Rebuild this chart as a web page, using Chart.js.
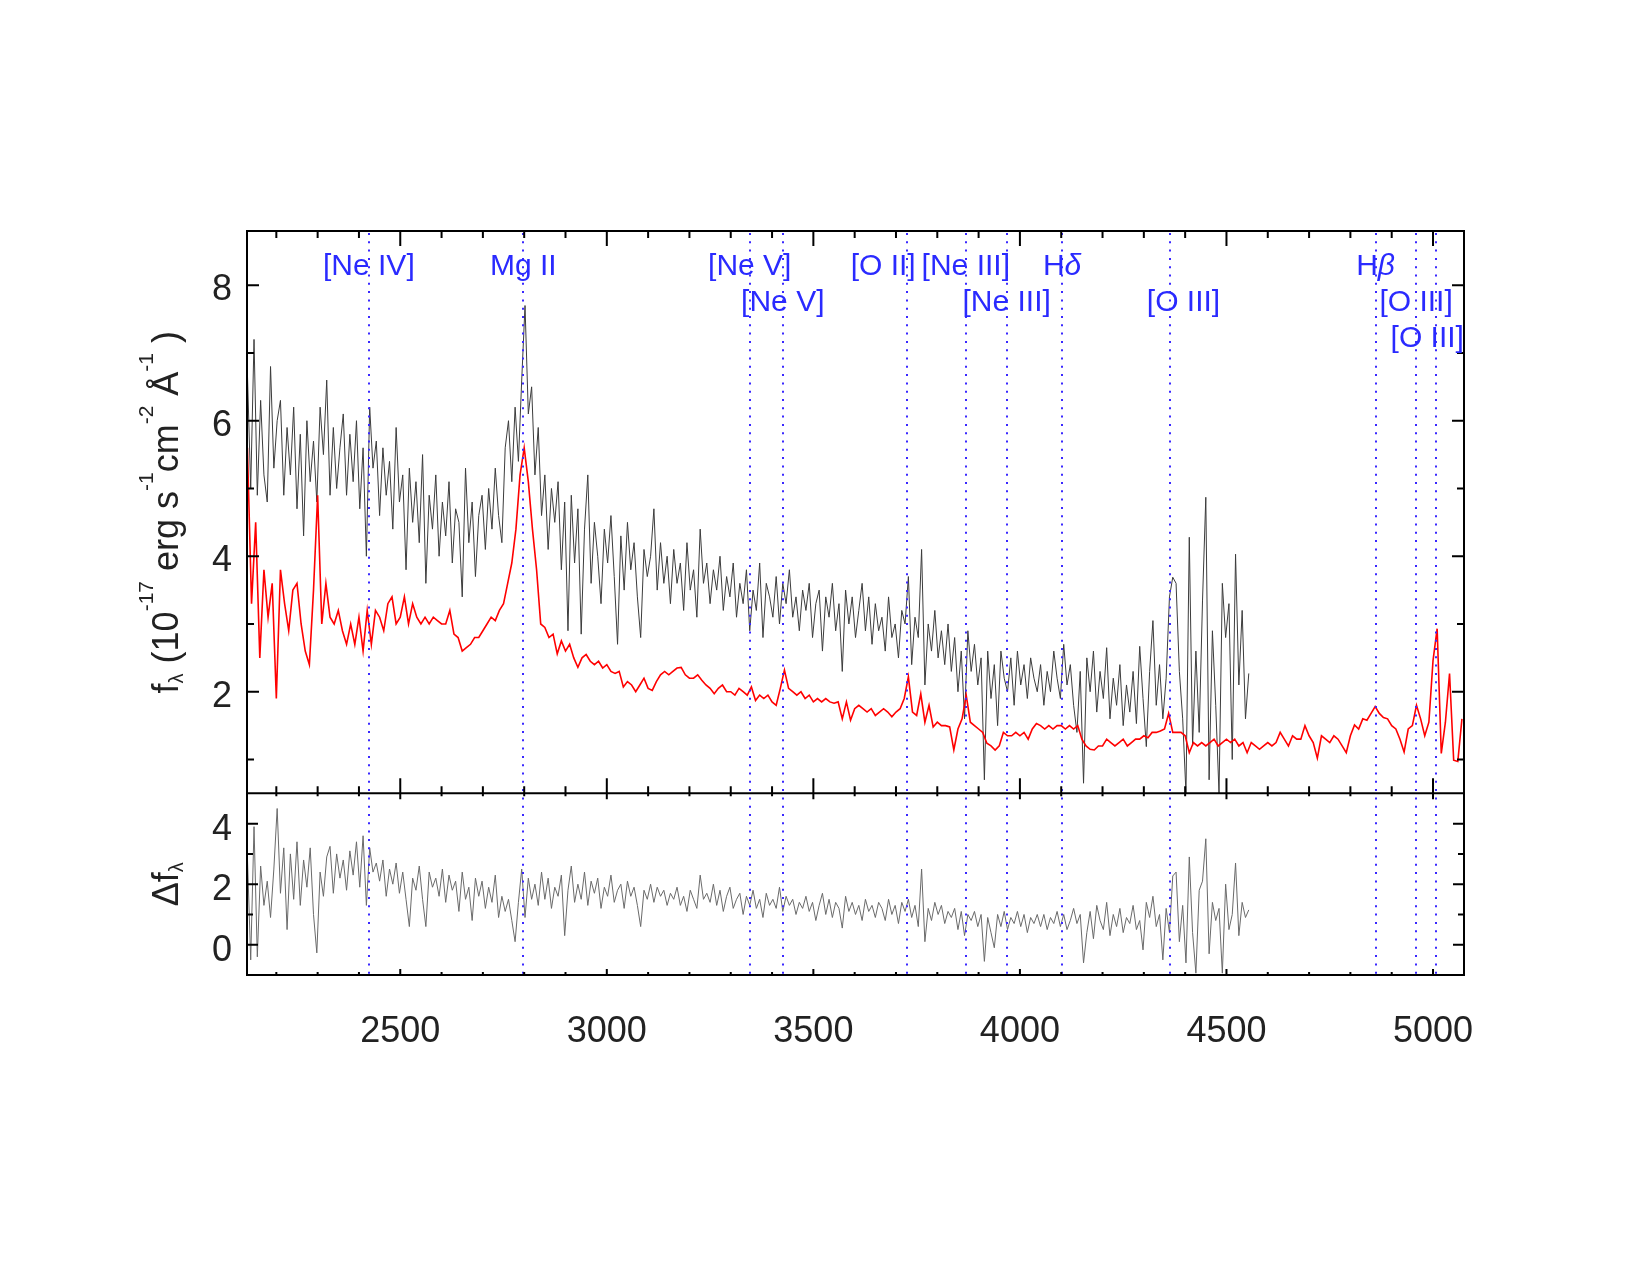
<!DOCTYPE html>
<html>
<head>
<meta charset="utf-8">
<script src="https://cdn.jsdelivr.net/npm/chart.js@4.4.1/dist/chart.umd.min.js"></script>
<style>
  html, body { margin: 0; padding: 0; background: #fff; }
</style>
</head>
<body>
<canvas id="chart" width="1650" height="1275"></canvas>
<script>
// wavelength grids (Angstrom) for the spectra
const redStart = 2130, redStep = 10;
const grayStart = 2130, grayStep = 8;

// model / host-subtracted spectrum (red)
const redFlux = [
  5.6, 3.3, 4.5, 2.5, 3.8, 3.1, 3.6, 1.9, 3.8, 3.3,
  2.9, 3.5, 3.6, 3.0, 2.6, 2.4, 3.5, 4.9, 3.0, 3.6,
  3.1, 3.0, 3.2, 2.9, 2.7, 3.0, 2.7, 3.1, 2.6, 3.2,
  2.7, 3.2, 3.1, 2.9, 3.3, 3.4, 3.0, 3.1, 3.4, 3.0,
  3.3, 3.1, 3.0, 3.1, 3.0, 3.1, 3.05, 3.0, 3.0, 3.2,
  2.85, 2.8, 2.6, 2.65, 2.7, 2.8, 2.8, 2.9, 3.0, 3.1,
  3.05, 3.2, 3.3, 3.6, 3.9, 4.4, 5.2, 5.6, 5.1, 4.4,
  3.8, 3.0, 2.95, 2.8, 2.85, 2.56, 2.75, 2.6, 2.7, 2.5,
  2.36, 2.5, 2.55, 2.45, 2.4, 2.45, 2.35, 2.4, 2.3, 2.27,
  2.3, 2.07, 2.15, 2.1, 2.0, 2.1, 2.2, 2.05, 2.02, 2.15,
  2.25, 2.3, 2.25, 2.3, 2.35, 2.36, 2.25, 2.2, 2.2, 2.25,
  2.17, 2.1, 2.05, 1.97, 2.05, 2.1, 2.0, 2.0, 1.95, 2.05,
  2.0, 1.95, 2.07, 1.87, 1.95, 1.9, 1.95, 1.85, 1.8, 2.05,
  2.32, 2.05, 2.0, 1.95, 2.0, 1.9, 1.95, 1.85, 1.9, 1.85,
  1.9, 1.85, 1.83, 1.85, 1.6, 1.85, 1.58, 1.75, 1.8, 1.75,
  1.7, 1.75, 1.65, 1.7, 1.75, 1.7, 1.63, 1.7, 1.75, 1.9,
  2.22, 1.7, 1.65, 1.97, 1.55, 1.8, 1.48, 1.55, 1.5, 1.5,
  1.48, 1.14, 1.45, 1.6, 1.95, 1.55, 1.5, 1.45, 1.4, 1.24,
  1.2, 1.14, 1.2, 1.4, 1.35, 1.35, 1.4, 1.35, 1.4, 1.3,
  1.45, 1.53, 1.5, 1.45, 1.5, 1.45, 1.5, 1.5, 1.45, 1.5,
  1.45, 1.5, 1.3, 1.2, 1.15, 1.14, 1.2, 1.2, 1.3, 1.25,
  1.2, 1.25, 1.3, 1.2, 1.25, 1.3, 1.3, 1.35, 1.32, 1.4,
  1.4, 1.42, 1.45, 1.68, 1.4, 1.4, 1.4, 1.35, 1.1, 1.25,
  1.2, 1.25, 1.2, 1.25, 1.3, 1.2, 1.25, 1.3, 1.25, 1.3,
  1.2, 1.25, 1.1, 1.25, 1.2, 1.15, 1.2, 1.25, 1.2, 1.25,
  1.4, 1.3, 1.2, 1.35, 1.3, 1.3, 1.5, 1.35, 1.25, 1.02,
  1.35, 1.3, 1.25, 1.35, 1.3, 1.2, 1.1, 1.35, 1.51, 1.45,
  1.6, 1.58, 1.68, 1.78, 1.68, 1.62, 1.6, 1.5, 1.45, 1.3,
  1.11, 1.45, 1.5, 1.8, 1.6, 1.35, 1.55, 2.46, 2.93, 1.09,
  1.55, 2.27, 0.99, 0.97, 1.6
];

// observed spectrum (grey, top panel)
const grayFlux = [
  6.7, 5.0, 7.2, 4.9, 6.3, 5.2, 4.8, 6.8, 5.3, 6.0,
  6.3, 4.9, 5.9, 5.2, 6.2, 4.7, 5.8, 4.3, 6.0, 5.1,
  5.7, 4.8, 6.2, 5.5, 6.6, 4.9, 5.9, 5.0, 5.6, 6.1,
  4.9, 5.8, 5.1, 6.0, 4.7, 5.6, 4.0, 6.2, 5.3, 5.7,
  4.6, 5.6, 4.9, 5.4, 4.4, 5.9, 4.8, 5.2, 3.8, 5.3,
  4.5, 5.1, 4.2, 5.5, 3.6, 4.9, 4.4, 5.2, 4.0, 4.8,
  4.3, 5.1, 3.9, 4.7, 4.5, 3.4, 5.3, 4.2, 4.8, 3.7,
  4.6, 4.9, 4.1, 5.0, 4.4, 5.3, 4.6, 4.2, 5.6, 6.0,
  5.1, 6.2, 5.4, 6.6, 7.7, 6.1, 6.5, 5.2, 5.9, 4.6,
  5.2, 4.1, 5.0, 4.5, 5.1, 3.8, 4.8, 2.9, 4.9, 3.9,
  4.7, 2.85, 4.4, 5.2, 3.6, 4.5, 4.0, 3.3, 4.4, 3.9,
  4.6, 3.7, 2.7, 4.3, 3.5, 4.5, 3.8, 4.2, 3.4, 2.8,
  4.1, 3.7, 4.0, 4.7, 3.5, 4.2, 3.6, 4.0, 3.3, 4.1,
  3.6, 3.9, 3.2, 4.2, 3.5, 3.8, 3.1, 4.4, 3.6, 3.9,
  3.3, 3.8, 3.5, 4.0, 3.2, 3.7, 3.4, 3.9, 3.1, 3.6,
  3.3, 3.8, 2.9, 3.5, 3.2, 3.9, 2.8, 3.6, 3.4, 3.1,
  3.7, 3.0, 3.6, 3.3, 3.8, 3.1, 3.4, 2.9, 3.5, 3.2,
  3.6, 2.8, 3.3, 3.5, 2.6, 3.4, 3.1, 3.6, 2.9, 3.3,
  2.3, 3.5, 3.0, 3.4, 2.8, 3.2, 3.6, 2.9, 3.4, 2.7,
  3.3, 2.9, 3.1, 2.6, 3.4, 2.8, 3.0, 2.5, 3.2, 3.0,
  3.7, 2.4, 3.1, 2.8, 4.1, 2.1, 3.0, 2.6, 3.2, 2.5,
  2.9, 2.4, 3.0, 2.3, 2.8, 2.0, 2.6, 1.6, 2.9, 2.3,
  2.7, 2.1, 2.5, 0.7, 2.6, 1.9, 2.4, 1.5, 2.6, 2.2,
  2.0, 2.5, 1.8, 2.6, 2.1, 2.4, 1.9, 2.5, 2.2, 2.0,
  2.4, 1.8, 2.3, 2.0, 2.6, 2.2, 1.9, 2.7, 2.1, 2.4,
  1.8, 1.4, 2.3, 0.65, 2.5, 2.0, 2.6, 1.7, 2.3, 1.9,
  2.65, 1.6, 2.2, 1.8, 2.4, 1.5, 2.1, 1.7, 2.3, 1.53,
  2.67, 1.9, 1.19, 2.3, 3.05, 1.8, 2.4, 1.6, 2.2, 3.4,
  3.69, 3.6, 2.3, 1.6, 0.5, 4.28, 1.2, 2.6, 1.4, 3.34,
  4.87, 0.7, 2.9, 1.8, 0.5, 3.6, 2.8, 3.3, 1.0, 4.03,
  2.1, 3.2, 1.6, 2.27
];

// difference spectrum (bottom panel)
const diffFlux = [
  2.9, -0.5, 3.9, -0.4, 2.6, 1.3, 2.1, 0.9, 2.5, 4.5,
  1.7, 3.2, 0.5, 3.0, 1.5, 3.4, 1.3, 2.8, 1.9, 3.2,
  1.0, -0.27, 2.4, 1.6, 2.9, 3.25, 1.7, 3.0, 2.2, 2.8,
  1.8, 3.1, 2.3, 3.4, 1.9, 3.6, 1.3, 3.2, 2.4, 2.7,
  2.1, 2.8, 1.6, 2.5, 2.0, 2.7, 1.7, 2.4, 1.5, 0.6,
  2.2, 1.8, 2.6, 1.5, 0.6, 2.4, 1.9, 2.2, 1.6, 2.5,
  1.4, 2.3, 1.8, 2.1, 1.1, 2.4, 1.5, 1.9, 0.8, 2.2,
  1.6, 2.1, 1.2, 1.9, 1.4, 2.3, 0.9, 1.6, 1.1, 1.5,
  0.8, 0.1, 1.4, 2.5, 0.9, 2.2, 1.5, 2.0, 1.3, 2.4,
  1.5, 2.2, 1.2, 1.9, 1.6, 2.3, 0.3, 1.8, 2.6, 1.4,
  2.0, 1.5, 2.4, 1.3, 2.1, 1.7, 2.2, 1.2, 1.9, 1.6,
  2.3, 1.4, 1.8, 2.0, 1.2, 2.1, 1.6, 1.9, 1.3, 0.6,
  1.8, 1.5, 2.0, 1.4, 1.9, 1.6, 1.8, 1.3, 1.7, 1.5,
  1.9, 1.3, 1.6, 1.1, 1.8, 1.5, 1.2, 2.3, 1.5, 1.7,
  1.4, 2.0, 1.3, 1.8, 1.1, 1.6, 1.9, 1.2, 1.5, 1.7,
  1.0, 1.6, 1.3, 1.8, 1.2, 1.5, 0.9, 1.7, 1.3, 1.5,
  1.2, 1.9, 1.1, 1.6, 1.3, 1.5, 1.0, 1.4, 1.2, 1.6,
  1.1, 1.4, 0.8, 1.3, 1.7, 1.0, 1.5, 0.9, 1.4, 1.2,
  0.55, 1.6, 1.1, 1.4, 1.0, 1.3, 0.8, 1.5, 1.1, 1.3,
  0.9, 1.4, 1.2, 0.8, 1.5, 1.0, 1.3, 0.7, 1.4, 1.1,
  1.5, 0.9, 1.3, 0.6, 2.5, 0.1, 1.2, 0.8, 1.4, 1.0,
  1.3, 0.7, 1.1, 0.9, 1.2, 0.5, 1.1, 0.3, 1.0, 0.8,
  1.1, 0.6, 1.0, -0.55, 0.9, 0.4, -0.1, 1.0, 0.6, 1.1,
  0.5, 0.9, 0.7, 1.1, 0.6, 1.0, 0.4, 0.9, 0.7, 1.0,
  0.6, 1.0, 0.5, 0.9, 0.7, 1.1, 0.6, 1.0, 0.5, 0.8,
  1.2, 0.7, 1.0, -0.6, 0.4, 1.1, 0.2, 1.3, 0.8, 0.5,
  1.4, 0.3, 1.0, 0.6, 1.2, 0.4, 0.9, 0.7, 1.3, 0.5,
  0.8, -0.17, 1.4, 0.9, 1.6, 0.6, 1.0, -0.5, 1.2, 0.4,
  2.27, 2.4, 0.1, 1.3, -0.6, 2.9, 0.4, -0.94, 1.8, 2.1,
  3.5, -0.3, 1.4, 0.8, 1.2, -0.94, 2.0, 0.5, 1.0, 2.7,
  0.3, 1.4, 0.9, 1.15
];

// emission lines marked on the plot
const lineWaves = [2424, 2798, 3346, 3426, 3727, 3869, 3968, 4102, 4363, 4861, 4959, 5007];
const lineNames = ['[Ne IV]', 'Mg II', '[Ne V]', '[Ne V]', '[O II]', '[Ne III]', '[Ne III]', 'Hδ', '[O III]', 'Hβ', '[O III]', '[O III]'];
const lineRows = [0, 0, 0, 1, 0, 0, 1, 0, 1, 0, 1, 2];
const labelWaves = [2424, 2798, 3346, 3426, 3669, 3869, 3968, 4102, 4396, 4861, 4959, 4986];

const xTicks = [2500, 3000, 3500, 4000, 4500, 5000];
const fluxTicks = [2, 4, 6, 8];
const diffTicks = [0, 2, 4];

const FONT = "'Liberation Sans', Arial, Helvetica, sans-serif";

const toPoints = (start, step, arr) => arr.map((v, i) => ({ x: start + i * step, y: v }));

// draw a run of text pieces (size, vertical shift, italic) starting at x
function drawPieces(ctx, pieces, x, y, align) {
  let total = 0;
  pieces.forEach((p) => {
    ctx.font = (p.it ? 'italic ' : '') + p.s + 'px ' + FONT;
    p.w = ctx.measureText(p.t).width;
    total += p.w;
  });
  let cx = align === 'center' ? x - total / 2 : x;
  pieces.forEach((p) => {
    ctx.font = (p.it ? 'italic ' : '') + p.s + 'px ' + FONT;
    ctx.fillText(p.t, cx, y + (p.dy || 0));
    cx += p.w;
  });
}

function labelPieces(name) {
  return name.split('').reduce((acc, ch) => {
    const greek = /[α-ω]/.test(ch);
    const last = acc[acc.length - 1];
    if (last && last.it === greek) last.t += ch;
    else acc.push({ t: ch, s: 30, it: greek });
    return acc;
  }, []);
}

const specPlugin = {
  id: 'spec',
  afterDatasetsDraw(chart) {
    const { ctx } = chart;
    const x = chart.scales.x, y = chart.scales.y, y2 = chart.scales.y2;
    const L = x.left, R = x.right, T = y.top, M = y.bottom, B = y2.bottom;
    ctx.save();

    // dotted line markers
    ctx.strokeStyle = '#3a28ff';
    ctx.lineWidth = 2;
    ctx.setLineDash([2, 6.3]);
    lineWaves.forEach((w) => {
      const px = Math.round(x.getPixelForValue(w));
      ctx.beginPath();
      ctx.moveTo(px, T + 2);
      ctx.lineTo(px, B);
      ctx.stroke();
    });
    ctx.setLineDash([]);

    // frame
    ctx.strokeStyle = '#000';
    ctx.lineWidth = 2;
    ctx.strokeRect(L, T, R - L, B - T);
    ctx.beginPath();
    ctx.moveTo(L, M);
    ctx.lineTo(R, M);
    ctx.stroke();

    // ticks
    ctx.beginPath();
    for (let w = 2200; w <= 5000; w += 100) {
      const px = x.getPixelForValue(w);
      const major = w % 500 === 0;
      const a = major ? 15 : 7, b = major ? 6 : 3;
      ctx.moveTo(px, T); ctx.lineTo(px, T + a);
      ctx.moveTo(px, M); ctx.lineTo(px, M - a);
      ctx.moveTo(px, M); ctx.lineTo(px, M + b);
      ctx.moveTo(px, B); ctx.lineTo(px, B - b);
    }
    for (let v = 1; v <= 8; v++) {
      const py = y.getPixelForValue(v);
      const len = v % 2 === 0 ? 12 : 7;
      ctx.moveTo(L, py); ctx.lineTo(L + len, py);
      ctx.moveTo(R, py); ctx.lineTo(R - len, py);
    }
    for (let v = 0; v <= 4; v++) {
      const py = y2.getPixelForValue(v);
      const len = v % 2 === 0 ? 11 : 6;
      ctx.moveTo(L, py); ctx.lineTo(L + len, py);
      ctx.moveTo(R, py); ctx.lineTo(R - len, py);
    }
    ctx.stroke();

    // line labels
    ctx.fillStyle = '#2a2aff';
    ctx.textBaseline = 'alphabetic';
    const rowBase = [275, 311, 347];
    lineNames.forEach((name, i) => {
      drawPieces(ctx, labelPieces(name), x.getPixelForValue(labelWaves[i]), rowBase[lineRows[i]], 'center');
    });

    // axis titles
    ctx.fillStyle = '#222';
    ctx.save();
    ctx.translate(178, (T + M) / 2);
    ctx.rotate(-Math.PI / 2);
    drawPieces(ctx, [
      { t: 'f', s: 36 }, { t: 'λ', s: 20, dy: 5 }, { t: ' (10', s: 36 },
      { t: '-17', s: 21, dy: -25 }, { t: ' erg s', s: 36 }, { t: '-1', s: 21, dy: -25 },
      { t: 'cm', s: 36 }, { t: '-2', s: 21, dy: -25 }, { t: ' Å', s: 36 },
      { t: '-1', s: 21, dy: -25 }, { t: ' )', s: 36 }
    ], 0, 0, 'center');
    ctx.restore();
    ctx.save();
    ctx.translate(178, (M + B) / 2);
    ctx.rotate(-Math.PI / 2);
    drawPieces(ctx, [{ t: 'Δf', s: 36 }, { t: 'λ', s: 20, dy: 5 }], 0, 0, 'center');
    ctx.restore();

    ctx.restore();
  }
};

const tickFont = { family: FONT, size: 36 };

new Chart(document.getElementById('chart'), {
  type: 'line',
  data: {
    datasets: [
      { label: 'model', data: toPoints(redStart, redStep, redFlux), yAxisID: 'y', borderColor: '#ff0000', borderWidth: 1.6, order: 0 },
      { label: 'observed', data: toPoints(grayStart, grayStep, grayFlux), yAxisID: 'y', borderColor: '#3c3c3c', borderWidth: 1, order: 1 },
      { label: 'difference', data: toPoints(grayStart, grayStep, diffFlux), yAxisID: 'y2', borderColor: '#6a6a6a', borderWidth: 1, order: 2 }
    ]
  },
  options: {
    responsive: false,
    animation: false,
    devicePixelRatio: 1,
    layout: { padding: { top: 231, right: 186, bottom: 200, left: 0 } },
    elements: { point: { radius: 0 }, line: { tension: 0 } },
    plugins: { legend: { display: false }, tooltip: { enabled: false } },
    scales: {
      x: {
        type: 'linear', position: 'bottom', min: 2129, max: 5075,
        grid: { display: false, drawTicks: false }, border: { display: false },
        afterBuildTicks: (s) => { s.ticks = xTicks.map((v) => ({ value: v })); },
        afterFit: (s) => { s.height = 100; },
        ticks: { font: tickFont, color: '#222', padding: 35, maxRotation: 0, autoSkip: false, callback: (v) => String(v) }
      },
      // the stacked panel listed first is laid out lowest
      y2: {
        type: 'linear', position: 'left', stack: 'panels', stackWeight: 181.7, min: -1, max: 5,
        grid: { display: false, drawTicks: false }, border: { display: false },
        afterBuildTicks: (s) => { s.ticks = diffTicks.map((v) => ({ value: v })); },
        afterFit: (s) => { s.width = 247; },
        ticks: { font: tickFont, color: '#222', padding: 15, labelOffset: 6, callback: (v) => String(v) }
      },
      y: {
        type: 'linear', position: 'left', stack: 'panels', stackWeight: 562.6, min: 0.5, max: 8.8,
        grid: { display: false, drawTicks: false }, border: { display: false },
        afterBuildTicks: (s) => { s.ticks = fluxTicks.map((v) => ({ value: v })); },
        afterFit: (s) => { s.width = 247; },
        ticks: { font: tickFont, color: '#222', padding: 15, labelOffset: 5, callback: (v) => String(v) }
      }
    }
  },
  plugins: [specPlugin]
});
</script>
</body>
</html>
